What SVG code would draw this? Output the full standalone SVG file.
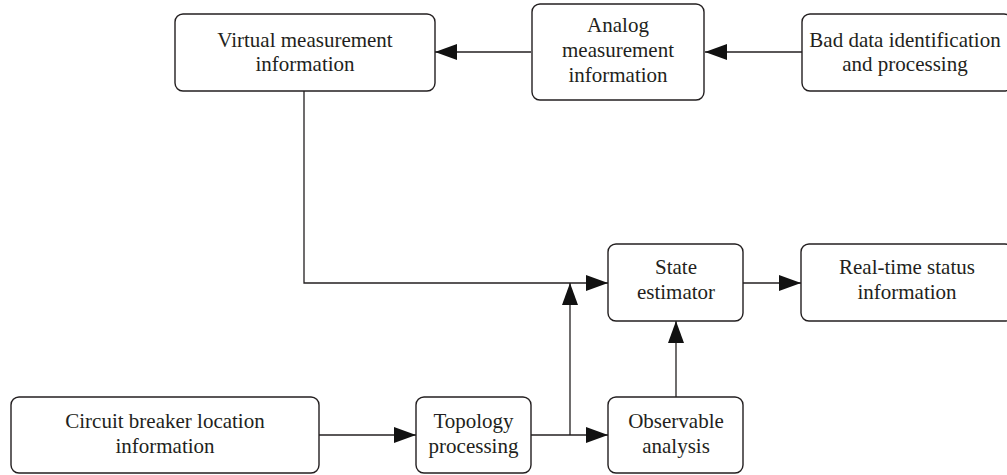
<svg xmlns="http://www.w3.org/2000/svg" width="1007" height="475" viewBox="0 0 1007 475">
<style>
.box{fill:#fff;stroke:#231f20;stroke-width:1.4}
.t{font-family:"Liberation Serif","DejaVu Serif",serif;font-size:21px;fill:#231f20;text-anchor:middle}
.c{fill:none;stroke:#231f20;stroke-width:1.3}
</style>
<defs>
<marker id="ah" markerUnits="userSpaceOnUse" markerWidth="24" markerHeight="18" refX="22" refY="8" orient="auto">
<path d="M0,0 L22,8 L0,16 Z" fill="#111"/>
</marker>
</defs>
<rect width="1007" height="475" fill="#fff"/>
<g id="connectors">
<path class="c" d="M531,52 H435" marker-end="url(#ah)"/>
<path class="c" d="M802,52 H705" marker-end="url(#ah)"/>
<path class="c" d="M304,91 V283 H608" marker-end="url(#ah)"/>
<path class="c" d="M743,283 H801" marker-end="url(#ah)"/>
<path class="c" d="M319,435 H416" marker-end="url(#ah)"/>
<path class="c" d="M531,435 H608" marker-end="url(#ah)"/>
<path class="c" d="M570,435 V283" marker-end="url(#ah)"/>
<path class="c" d="M676,397 V321" marker-end="url(#ah)"/>
</g>
<g id="virtual">
<rect class="box" x="175" y="14" width="260" height="77" rx="8"/>
<text class="t" x="305" y="47">Virtual measurement</text>
<text class="t" x="305" y="71">information</text>
</g>
<g id="analog">
<rect class="box" x="532" y="4" width="172" height="96" rx="8"/>
<text class="t" x="618" y="32">Analog</text>
<text class="t" x="618" y="57">measurement</text>
<text class="t" x="618" y="82">information</text>
</g>
<g id="baddata">
<rect class="box" x="802" y="14" width="210" height="77" rx="8"/>
<text class="t" x="905" y="47">Bad data identification</text>
<text class="t" x="905" y="71">and processing</text>
</g>
<g id="state">
<rect class="box" x="608" y="244" width="135" height="77" rx="8"/>
<text class="t" x="676" y="274">State</text>
<text class="t" x="676" y="299">estimator</text>
</g>
<g id="realtime">
<rect class="box" x="801" y="244" width="212" height="77" rx="8"/>
<text class="t" x="907" y="274">Real-time status</text>
<text class="t" x="907" y="299">information</text>
</g>
<g id="circuit">
<rect class="box" x="11" y="397" width="308" height="76" rx="8"/>
<text class="t" x="165" y="428">Circuit breaker location</text>
<text class="t" x="165" y="453">information</text>
</g>
<g id="topology">
<rect class="box" x="416" y="397" width="115" height="76" rx="8"/>
<text class="t" x="473.5" y="428">Topology</text>
<text class="t" x="473.5" y="453">processing</text>
</g>
<g id="observable">
<rect class="box" x="608" y="397" width="135" height="76" rx="8"/>
<text class="t" x="676" y="428">Observable</text>
<text class="t" x="676" y="453">analysis</text>
</g>
</svg>
